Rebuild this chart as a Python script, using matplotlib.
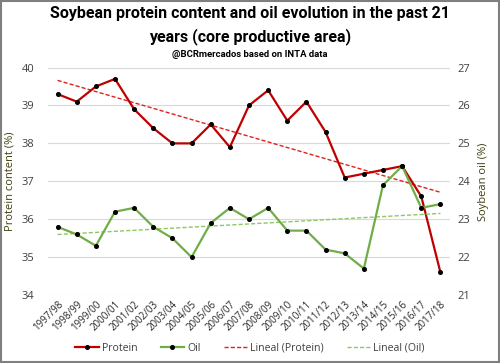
import matplotlib
matplotlib.use("Agg")
import matplotlib.pyplot as plt
import numpy as np
from matplotlib.lines import Line2D
from matplotlib.patches import Rectangle

seasons = ["1997/98", "1998/99", "1999/00", "2000/01", "2001/02", "2002/03", "2003/04",
           "2004/05", "2005/06", "2006/07", "2007/08", "2008/09", "2009/10", "2010/11",
           "2011/12", "2012/13", "2013/14", "2014/15", "2015/16", "2016/17", "2017/18"]
protein = [39.3, 39.1, 39.5, 39.7, 38.9, 38.4, 38.0, 38.0, 38.5, 37.9, 39.0,
           39.4, 38.6, 39.1, 38.3, 37.1, 37.2, 37.3, 37.4, 36.6, 34.6]
oil = [22.8, 22.6, 22.3, 23.2, 23.3, 22.8, 22.5, 22.0, 22.9, 23.3, 23.0,
       23.3, 22.7, 22.7, 22.2, 22.1, 21.7, 23.9, 24.4, 23.3, 23.4]
left_ticks = [34, 35, 36, 37, 38, 39, 40]
right_ticks = [21, 22, 23, 24, 25, 26, 27]

plt.rcParams['font.family'] = ['Open Sans', 'DejaVu Sans']

fig = plt.figure(figsize=(5.0, 3.63), dpi=100)
ax = fig.add_axes([0.096, 0.187, 0.804, 0.627])
ax2 = ax.twinx()

x = np.arange(len(seasons))
red = '#C00000'
green = '#70AD47'

# trend lines
pp = np.polyfit(x, protein, 1)
po = np.polyfit(x, oil, 1)
ax.plot(x, np.polyval(pp, x), color='#E02020', lw=1.0, ls=(0, (3, 1.5)), zorder=2)
ax2.plot(x, np.polyval(po, x), color='#8CC865', lw=1.0, ls=(0, (3, 1.5)), zorder=2)

ax.plot(x, protein, color=red, lw=1.6, marker='o', ms=2.6, mfc='black', mec='black', zorder=3)
ax2.plot(x, oil, color=green, lw=1.6, marker='o', ms=2.6, mfc='black', mec='black', zorder=3)

ax.set_xlim(-0.5, len(seasons) - 0.5)
ax.set_ylim(34, 40)
ax2.set_ylim(21, 27)
ax.set_yticks(left_ticks)
ax2.set_yticks(right_ticks)
ax.set_xticks(x)
ax.set_xticklabels(seasons, rotation=45, ha='right', rotation_mode='anchor', fontsize=7, color='#262626')
ax.tick_params(axis='x', length=0, pad=3)
ax.tick_params(axis='y', length=0, pad=10, labelsize=8, labelcolor='#404040')
ax2.tick_params(axis='y', length=0, pad=5, labelsize=8, labelcolor='#404040')
ax.grid(axis='y', color='#D9D9D9', lw=0.8)
ax.set_axisbelow(True)
for a in (ax, ax2):
    for s in a.spines.values():
        s.set_visible(False)

ax.set_ylabel('Protein content (%)', fontsize=8, color='#3F3F10', labelpad=4)
ax2.set_ylabel('Soybean oil (%)', fontsize=8, color='#3F3F10', labelpad=6)

title_font = ['Roboto', 'DejaVu Sans']
fig.text(0.5, 0.962, 'Soybean protein content and oil evolution in the past 21',
         ha='center', va='center', fontsize=11.5, fontweight='bold', family=title_font)
fig.text(0.5, 0.899, 'years (core productive area)',
         ha='center', va='center', fontsize=11.5, fontweight='bold', family=title_font)
fig.text(0.5, 0.849, '@BCRmercados based on INTA data',
         ha='center', va='center', fontsize=6.8, fontweight='bold', family=title_font)

handles = [
    Line2D([], [], color=red, lw=1.6, marker='o', ms=2.6, mfc='black', mec='black'),
    Line2D([], [], color=green, lw=1.6, marker='o', ms=2.6, mfc='black', mec='black'),
    Line2D([], [], color='#E02020', lw=1.0, ls=(0, (3, 1.5))),
    Line2D([], [], color='#8CC865', lw=1.0, ls=(0, (3, 1.5))),
]
labels = ['Protein', 'Oil', 'Lineal (Protein)', 'Lineal (Oil)']
fig.legend(handles, labels, loc='center', bbox_to_anchor=(0.5, 0.04), ncol=4,
           frameon=False, fontsize=7.6, handlelength=2.2, columnspacing=2.2,
           handletextpad=0.3, labelcolor='#404040')

fig.patches.append(Rectangle((0.002, 0.003), 0.996, 0.994, transform=fig.transFigure,
                             fill=False, ec='#7F7F7F', lw=1.5))

fig.savefig('out.png', dpi=100)
